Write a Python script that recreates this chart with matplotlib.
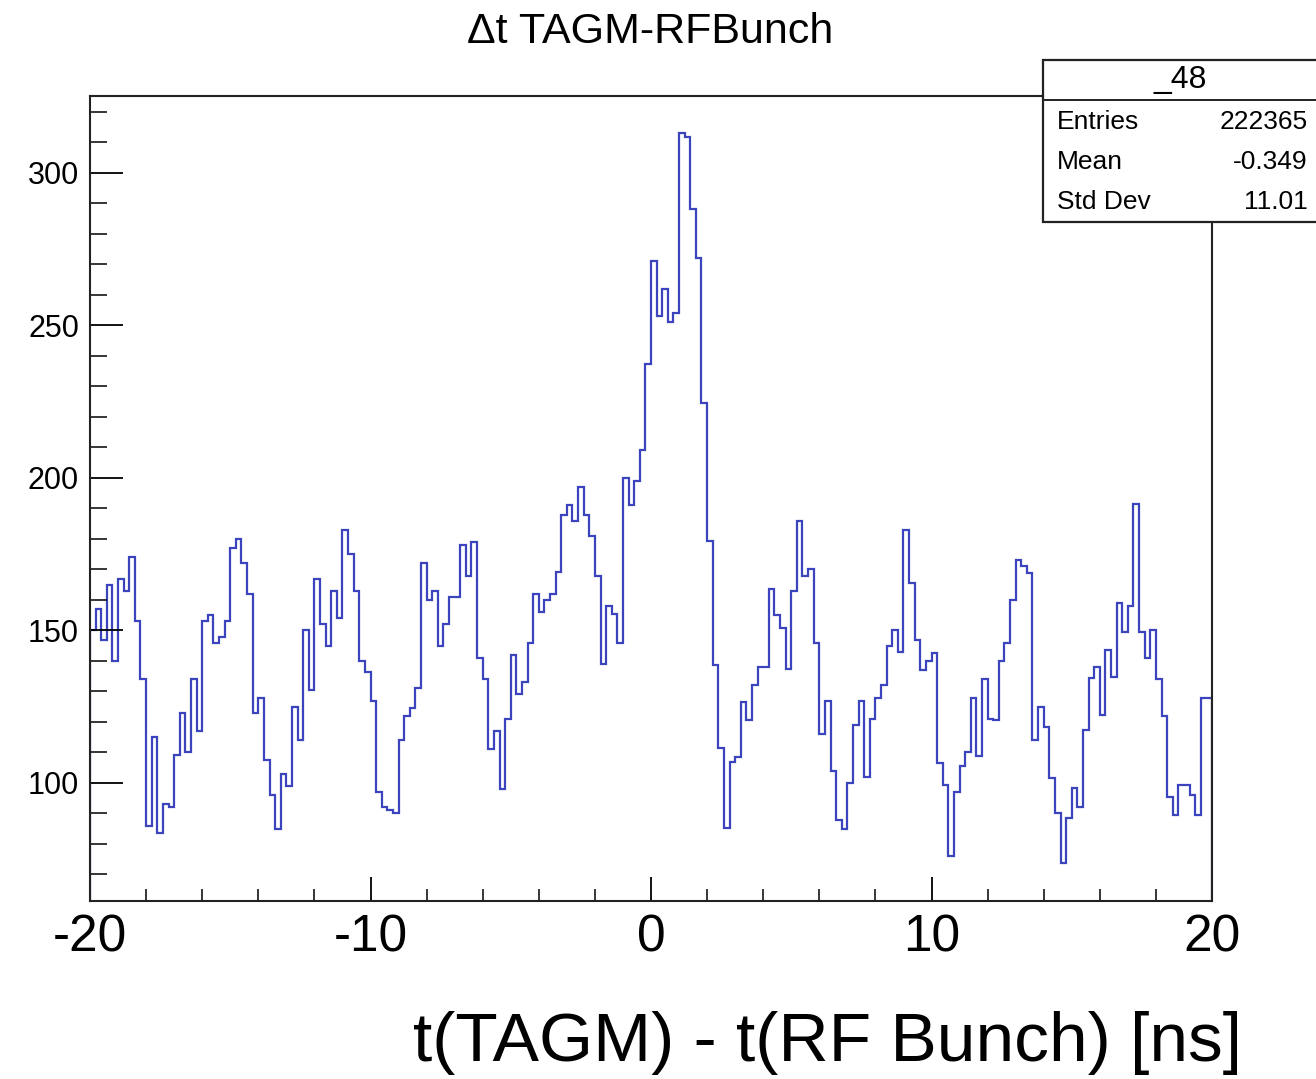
import numpy as np
import matplotlib
matplotlib.use("Agg")
import matplotlib.pyplot as plt
from matplotlib.patches import Rectangle
from matplotlib.ticker import MultipleLocator

plt.rcParams['font.family'] = ['Liberation Sans', 'DejaVu Sans']

# histogram: 200 bins from -20 to 20 ns, counts
x_lo, x_hi = -20.0, 20.0
counts = [
    150, 157, 147, 165, 140, 167, 163, 174, 153, 134,
    86, 115, 83.5, 93, 92, 109, 123, 110, 134, 117,
    153, 155, 146, 148, 153, 177, 180, 172, 162, 123,
    128, 107.5, 96, 85, 103, 99, 125, 114, 150, 130.5,
    167, 152, 145, 163, 154, 183, 175, 163, 140, 136.5,
    127, 97, 92, 91, 90, 114, 122, 124.5, 131, 172,
    160, 163, 145, 152, 161, 161, 178, 168, 179, 141,
    134, 111, 117, 98, 121, 142, 129, 133, 146, 162,
    156, 160, 162, 169, 188, 191, 186, 197, 188, 181,
    168, 139, 158, 155.5, 146, 200, 191, 199, 209, 237.5,
    271, 253, 262, 251, 254, 313, 311.6, 288, 272, 224.6,
    179.3, 138.7, 111.5, 85.1, 107, 108.5, 126.6, 120.6, 132, 138,
    138, 163.5, 155, 150.7, 137.4, 163, 186, 168, 170, 146,
    116, 127, 104, 88, 85, 100, 119, 127, 102, 121,
    128, 132, 145, 150, 143, 183, 165.5, 147, 137, 140,
    142.5, 106.4, 99.3, 76, 97, 105.4, 110, 128, 108.7, 134,
    121, 120.7, 140, 146, 160, 173, 171, 168.7, 114, 125,
    118.5, 101.5, 90, 73.7, 88.4, 98.2, 92, 117.4, 134.3, 138,
    122.3, 143.6, 134.8, 159, 149.6, 158, 191.5, 149.6, 140.8, 150,
    134, 122, 95.5, 89.5, 99.3, 99.3, 96, 89.5, 128, 128,
]

title = "\u0394t TAGM-RFBunch"
x_label = "t(TAGM) - t(RF Bunch) [ns]"
x_ticks = [-20, -10, 0, 10, 20]
y_ticks = [100, 150, 200, 250, 300]
stats_name = "_48"
stats_rows = ["Entries", "Mean", "Std Dev"]
stats_vals = ["222365", "-0.349", "11.01"]

W, H = 1316, 1079
fig = plt.figure(figsize=(W / 100, H / 100), dpi=100)
ax = fig.add_axes([90 / W, 1 - 901 / H, 1122 / W, 805 / H])

edges = np.linspace(x_lo, x_hi, len(counts) + 1)
ax.stairs(counts, edges, baseline=0, color='#3b44bd', lw=1.6)

ax.set_xlim(x_lo, x_hi)
ax.set_ylim(61.3, 325.2)

ax.set_xticks(x_ticks)
ax.set_xticklabels([str(t) for t in x_ticks])
ax.xaxis.set_minor_locator(MultipleLocator(2))
ax.set_yticks(y_ticks)
ax.yaxis.set_minor_locator(MultipleLocator(10))

ax.tick_params(axis='x', which='major', direction='in', length=17, width=1.3,
               labelsize=37, pad=9, top=False)
ax.tick_params(axis='x', which='minor', direction='in', length=9, width=1.1, top=False)
ax.tick_params(axis='y', which='major', direction='in', length=24, width=1.3,
               labelsize=22, pad=8, right=False)
ax.tick_params(axis='y', which='minor', direction='in', length=12, width=1.1, right=False)
for s in ax.spines.values():
    s.set_linewidth(1.5)
    s.set_color('#222222')

fig.text(650 / W, 1 - 32 / H, title, ha='center', va='center', fontsize=31)
fig.text(1242 / W, 1 - 1043 / H, x_label, ha='right', va='center', fontsize=50)

# stats box
box = Rectangle((1043 / W, 1 - 222 / H), 300 / W, 162 / H, transform=fig.transFigure,
                facecolor='white', edgecolor='#222222', lw=1.6, zorder=5)
fig.patches.append(box)
fig.add_artist(plt.Line2D([1043 / W, 1], [1 - 100 / H, 1 - 100 / H],
                          transform=fig.transFigure, color='#222222', lw=1.4, zorder=6))
fig.text(1180 / W, 1 - 80 / H, stats_name, ha='center', va='center', fontsize=23, zorder=7)
for i, (lab, val) in enumerate(zip(stats_rows, stats_vals)):
    yy = 1 - (122 + 40 * i) / H
    fig.text(1057 / W, yy, lab, ha='left', va='center', fontsize=19, zorder=7)
    fig.text(1308 / W, yy, val, ha='right', va='center', fontsize=19, zorder=7)

fig.savefig("out.png", dpi=100, facecolor='white')
